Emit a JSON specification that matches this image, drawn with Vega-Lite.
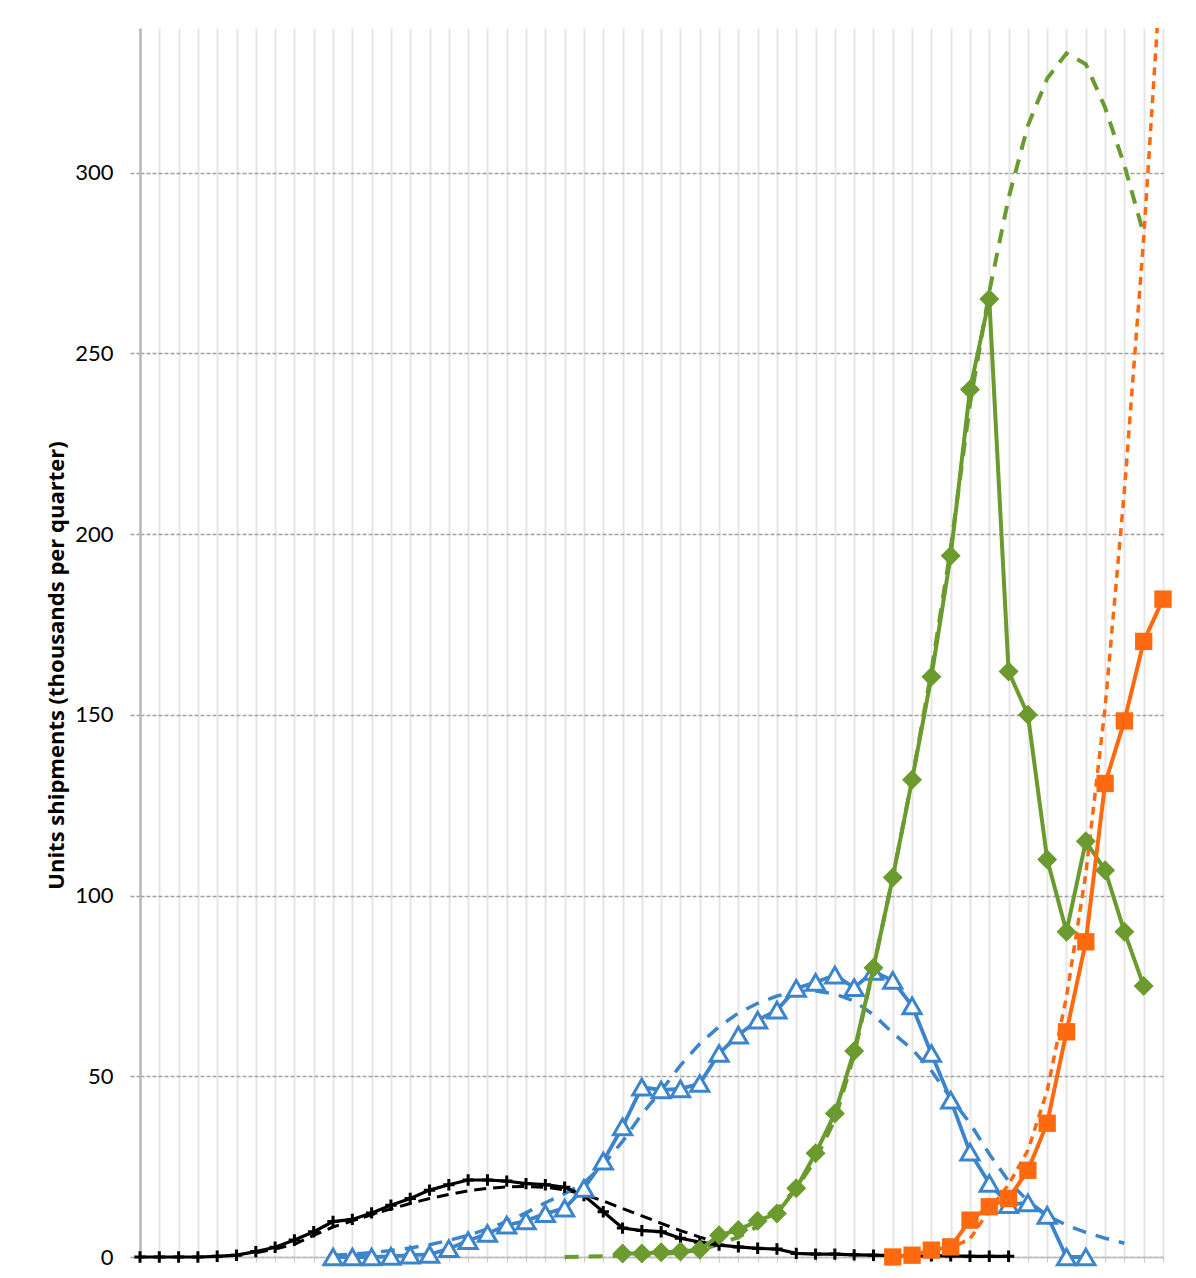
{
  "$schema": "https://vega.github.io/schema/vega-lite/v6.json",
  "width": 1023,
  "height": 1229,
  "autosize": {"type": "none"},
  "padding": {"left": 140, "top": 28, "right": 33, "bottom": 21},
  "background": "white",
  "config": {
    "view": {"stroke": null},
    "font": "Lato"
  },
  "datasets": {
    "actual": [
      {"s":"black","i":0,"v":0},{"s":"black","i":1,"v":0},{"s":"black","i":2,"v":0},{"s":"black","i":3,"v":0},
      {"s":"black","i":4,"v":0.2},{"s":"black","i":5,"v":0.5},{"s":"black","i":6,"v":1.5},{"s":"black","i":7,"v":2.7},
      {"s":"black","i":8,"v":4.7},{"s":"black","i":9,"v":7},{"s":"black","i":10,"v":9.8},{"s":"black","i":11,"v":10.4},
      {"s":"black","i":12,"v":12.2},{"s":"black","i":13,"v":14.3},{"s":"black","i":14,"v":16.2},{"s":"black","i":15,"v":18.5},
      {"s":"black","i":16,"v":20},{"s":"black","i":17,"v":21.3},{"s":"black","i":18,"v":21.3},{"s":"black","i":19,"v":21},
      {"s":"black","i":20,"v":20.3},{"s":"black","i":21,"v":20},{"s":"black","i":22,"v":19.3},{"s":"black","i":23,"v":17},
      {"s":"black","i":24,"v":12.5},{"s":"black","i":25,"v":8},{"s":"black","i":26,"v":7.3},{"s":"black","i":27,"v":7},
      {"s":"black","i":28,"v":5.2},{"s":"black","i":29,"v":4.1},{"s":"black","i":30,"v":3.3},{"s":"black","i":31,"v":2.8},
      {"s":"black","i":32,"v":2.4},{"s":"black","i":33,"v":2.2},{"s":"black","i":34,"v":1},{"s":"black","i":35,"v":0.8},
      {"s":"black","i":36,"v":0.8},{"s":"black","i":37,"v":0.6},{"s":"black","i":38,"v":0.5},{"s":"black","i":39,"v":0.4},
      {"s":"black","i":40,"v":0.3},{"s":"black","i":41,"v":0.3},{"s":"black","i":42,"v":0.3},{"s":"black","i":43,"v":0.2},
      {"s":"black","i":44,"v":0.2},{"s":"black","i":45,"v":0.2},

      {"s":"blue","i":10,"v":0},{"s":"blue","i":11,"v":0},{"s":"blue","i":12,"v":0},{"s":"blue","i":13,"v":0.2},
      {"s":"blue","i":14,"v":0.5},{"s":"blue","i":15,"v":0.7},{"s":"blue","i":16,"v":2.3},{"s":"blue","i":17,"v":4.5},
      {"s":"blue","i":18,"v":6.5},{"s":"blue","i":19,"v":8.8},{"s":"blue","i":20,"v":10},{"s":"blue","i":21,"v":12},
      {"s":"blue","i":22,"v":13.5},{"s":"blue","i":23,"v":19},{"s":"blue","i":24,"v":26.5},{"s":"blue","i":25,"v":36},
      {"s":"blue","i":26,"v":47},{"s":"blue","i":27,"v":46.2},{"s":"blue","i":28,"v":46.5},{"s":"blue","i":29,"v":48},
      {"s":"blue","i":30,"v":56.3},{"s":"blue","i":31,"v":61.4},{"s":"blue","i":32,"v":65.5},{"s":"blue","i":33,"v":68.3},
      {"s":"blue","i":34,"v":74.3},{"s":"blue","i":35,"v":76},{"s":"blue","i":36,"v":78},{"s":"blue","i":37,"v":74.5},
      {"s":"blue","i":38,"v":79},{"s":"blue","i":39,"v":76.5},{"s":"blue","i":40,"v":69.5},{"s":"blue","i":41,"v":56.3},
      {"s":"blue","i":42,"v":43.4},{"s":"blue","i":43,"v":29},{"s":"blue","i":44,"v":20.4},{"s":"blue","i":45,"v":14.5},
      {"s":"blue","i":46,"v":15},{"s":"blue","i":47,"v":11.5},{"s":"blue","i":48,"v":0},{"s":"blue","i":49,"v":0},

      {"s":"green","i":25,"v":1},{"s":"green","i":26,"v":1},{"s":"green","i":27,"v":1.3},{"s":"green","i":28,"v":1.5},
      {"s":"green","i":29,"v":2},{"s":"green","i":30,"v":6},{"s":"green","i":31,"v":7.5},{"s":"green","i":32,"v":10},
      {"s":"green","i":33,"v":12},{"s":"green","i":34,"v":19},{"s":"green","i":35,"v":28.7},{"s":"green","i":36,"v":39.7},
      {"s":"green","i":37,"v":57},{"s":"green","i":38,"v":80},{"s":"green","i":39,"v":105},{"s":"green","i":40,"v":132},
      {"s":"green","i":41,"v":160.5},{"s":"green","i":42,"v":194},{"s":"green","i":43,"v":240},{"s":"green","i":44,"v":265},
      {"s":"green","i":45,"v":162},{"s":"green","i":46,"v":150},{"s":"green","i":47,"v":110},{"s":"green","i":48,"v":90},
      {"s":"green","i":49,"v":115},{"s":"green","i":50,"v":107},{"s":"green","i":51,"v":90},{"s":"green","i":52,"v":75},

      {"s":"orange","i":39,"v":0},{"s":"orange","i":40,"v":0.5},{"s":"orange","i":41,"v":1.9},{"s":"orange","i":42,"v":2.8},
      {"s":"orange","i":43,"v":10.2},{"s":"orange","i":44,"v":13.9},{"s":"orange","i":45,"v":16.2},{"s":"orange","i":46,"v":24},
      {"s":"orange","i":47,"v":37},{"s":"orange","i":48,"v":62.3},{"s":"orange","i":49,"v":87.2},{"s":"orange","i":50,"v":131},
      {"s":"orange","i":51,"v":148.3},{"s":"orange","i":52,"v":170.3},{"s":"orange","i":53,"v":182}
    ],
    "fit": [
      {"s":"black","i":6,"v":1.2},{"s":"black","i":7,"v":2.2},{"s":"black","i":8,"v":3.5},{"s":"black","i":9,"v":6},
      {"s":"black","i":10,"v":8.3},{"s":"black","i":11,"v":10},{"s":"black","i":12,"v":11.7},{"s":"black","i":13,"v":13.3},
      {"s":"black","i":14,"v":14.8},{"s":"black","i":15,"v":16.2},{"s":"black","i":16,"v":17.3},{"s":"black","i":17,"v":18.3},
      {"s":"black","i":18,"v":19},{"s":"black","i":19,"v":19.4},{"s":"black","i":20,"v":19.5},{"s":"black","i":21,"v":19.3},
      {"s":"black","i":22,"v":18.6},{"s":"black","i":23,"v":17.3},{"s":"black","i":24,"v":15.5},{"s":"black","i":25,"v":13.4},
      {"s":"black","i":26,"v":11.4},{"s":"black","i":27,"v":9.3},{"s":"black","i":28,"v":7.3},{"s":"black","i":29,"v":5.5},
      {"s":"black","i":30,"v":4},

      {"s":"blue","i":10,"v":0.5},{"s":"blue","i":11,"v":0.8},{"s":"blue","i":12,"v":1.2},{"s":"blue","i":13,"v":1.8},
      {"s":"blue","i":14,"v":2.5},{"s":"blue","i":15,"v":3.4},{"s":"blue","i":16,"v":4.6},{"s":"blue","i":17,"v":6},
      {"s":"blue","i":18,"v":7.8},{"s":"blue","i":19,"v":9.8},{"s":"blue","i":20,"v":12.2},{"s":"blue","i":21,"v":15},
      {"s":"blue","i":22,"v":17.5},{"s":"blue","i":23,"v":20.5},{"s":"blue","i":24,"v":25.5},{"s":"blue","i":25,"v":32},
      {"s":"blue","i":26,"v":39.5},{"s":"blue","i":27,"v":46},{"s":"blue","i":28,"v":53},{"s":"blue","i":29,"v":59},
      {"s":"blue","i":30,"v":63.7},{"s":"blue","i":31,"v":67.5},{"s":"blue","i":32,"v":70.2},{"s":"blue","i":33,"v":72.2},
      {"s":"blue","i":34,"v":73.4},{"s":"blue","i":35,"v":73.6},{"s":"blue","i":36,"v":72.8},{"s":"blue","i":37,"v":70.8},
      {"s":"blue","i":38,"v":67},{"s":"blue","i":39,"v":62},{"s":"blue","i":40,"v":57.5},{"s":"blue","i":41,"v":51.5},
      {"s":"blue","i":42,"v":44},{"s":"blue","i":43,"v":37},{"s":"blue","i":44,"v":28.5},{"s":"blue","i":45,"v":21},
      {"s":"blue","i":46,"v":15.5},{"s":"blue","i":47,"v":11.5},{"s":"blue","i":48,"v":8.8},{"s":"blue","i":49,"v":6.8},
      {"s":"blue","i":50,"v":5.2},{"s":"blue","i":51,"v":3.8},

      {"s":"green","i":22,"v":0},{"s":"green","i":23,"v":0.1},{"s":"green","i":24,"v":0.2},{"s":"green","i":25,"v":0.3},
      {"s":"green","i":26,"v":0.5},{"s":"green","i":27,"v":0.8},{"s":"green","i":28,"v":1.2},{"s":"green","i":29,"v":2},
      {"s":"green","i":30,"v":3.5},{"s":"green","i":31,"v":5.5},{"s":"green","i":32,"v":8.5},{"s":"green","i":33,"v":13},
      {"s":"green","i":34,"v":19},{"s":"green","i":35,"v":27},{"s":"green","i":36,"v":38},{"s":"green","i":37,"v":56},
      {"s":"green","i":38,"v":80},{"s":"green","i":39,"v":105},{"s":"green","i":40,"v":132},{"s":"green","i":41,"v":162},
      {"s":"green","i":42,"v":196},{"s":"green","i":43,"v":236},{"s":"green","i":44,"v":267},{"s":"green","i":45,"v":293},
      {"s":"green","i":46,"v":313},{"s":"green","i":47,"v":326},{"s":"green","i":48,"v":333},{"s":"green","i":49,"v":330},
      {"s":"green","i":50,"v":318},{"s":"green","i":51,"v":302},{"s":"green","i":52,"v":283},

      {"s":"orange","i":41,"v":1},{"s":"orange","i":42,"v":2.5},{"s":"orange","i":43,"v":5},{"s":"orange","i":44,"v":13},
      {"s":"orange","i":45,"v":20},{"s":"orange","i":46,"v":29.5},{"s":"orange","i":47,"v":46},{"s":"orange","i":48,"v":72},
      {"s":"orange","i":49,"v":106},{"s":"orange","i":50,"v":152},{"s":"orange","i":51,"v":212},{"s":"orange","i":52,"v":282},
      {"s":"orange","i":53,"v":365}
    ]
  },
  "encoding": {
    "x": {
      "field": "i", "type": "quantitative",
      "scale": {"domain": [0, 53], "nice": false, "zero": false},
      "axis": {
        "title": null, "labels": false,
        "values": [0,1,2,3,4,5,6,7,8,9,10,11,12,13,14,15,16,17,18,19,20,21,22,23,24,25,26,27,28,29,30,31,32,33,34,35,36,37,38,39,40,41,42,43,44,45,46,47,48,49,50,51,52,53],
        "grid": true, "gridColor": "#E6E6E6", "gridWidth": 2,
        "domainColor": "#BFBFBF", "domainWidth": 1.5,
        "tickColor": "#C8C8C8", "tickSize": 5, "tickWidth": 1
      }
    },
    "y": {
      "field": "v", "type": "quantitative",
      "scale": {"domain": [0, 340], "nice": false},
      "axis": {
        "title": "Units shipments (thousands per quarter)",
        "titleFont": "Open Sans", "titleFontSize": 22, "titleFontWeight": "bold", "titleColor": "#000000",
        "titleX": -84, "titleY": 637, "titleAngle": 270, "titleAlign": "center", "titleBaseline": "middle",
        "values": [0, 50, 100, 150, 200, 250, 300],
        "labelFont": "Lato", "labelFontSize": 22, "labelColor": "#000000", "labelPadding": 17,
        "grid": true, "gridColor": "#A0A0A0", "gridDash": [4, 2], "gridWidth": 1.4,
        "domainColor": "#B8B8B8", "domainWidth": 2.5,
        "tickColor": "#A0A0A0", "tickSize": 10, "tickDash": [4, 2], "tickWidth": 1.4
      }
    }
  },
  "layer": [
    {"data": {"name": "fit"}, "transform": [{"filter": "datum.s === 'black'"}],
     "mark": {"type": "line", "color": "#000000", "strokeWidth": 3, "strokeDash": [12, 7]}},
    {"data": {"name": "fit"}, "transform": [{"filter": "datum.s === 'blue'"}],
     "mark": {"type": "line", "color": "#3C85CC", "strokeWidth": 3.5, "strokeDash": [14, 10]}},
    {"data": {"name": "fit"}, "transform": [{"filter": "datum.s === 'green'"}],
     "mark": {"type": "line", "color": "#6B9B2E", "strokeWidth": 4, "strokeDash": [14, 10]}},
    {"data": {"name": "fit"}, "transform": [{"filter": "datum.s === 'orange'"}],
     "mark": {"type": "line", "color": "#FF6A10", "strokeWidth": 3.5, "strokeDash": [8, 6], "clip": true}},

    {"data": {"name": "actual"}, "transform": [{"filter": "datum.s === 'black'"}],
     "mark": {"type": "line", "color": "#000000", "strokeWidth": 3.2}},
    {"data": {"name": "actual"}, "transform": [{"filter": "datum.s === 'black'"}],
     "mark": {"type": "point", "shape": "M-1,0H1M0,-1V1", "filled": false, "stroke": "#000000", "strokeWidth": 3, "size": 130, "opacity": 1}},

    {"data": {"name": "actual"}, "transform": [{"filter": "datum.s === 'blue'"}],
     "mark": {"type": "line", "color": "#3C85CC", "strokeWidth": 3.8}},
    {"data": {"name": "actual"}, "transform": [{"filter": "datum.s === 'blue'"}],
     "mark": {"type": "point", "shape": "triangle-up", "filled": false, "fill": "#FFFFFF", "fillOpacity": 1, "stroke": "#3C85CC", "strokeWidth": 3, "size": 330, "opacity": 1}},

    {"data": {"name": "actual"}, "transform": [{"filter": "datum.s === 'green'"}],
     "mark": {"type": "line", "color": "#6B9B2E", "strokeWidth": 4}},
    {"data": {"name": "actual"}, "transform": [{"filter": "datum.s === 'green'"}],
     "mark": {"type": "point", "shape": "diamond", "filled": true, "color": "#6B9B2E", "size": 400, "opacity": 1}},

    {"data": {"name": "actual"}, "transform": [{"filter": "datum.s === 'orange'"}],
     "mark": {"type": "line", "color": "#FF6A10", "strokeWidth": 4}},
    {"data": {"name": "actual"}, "transform": [{"filter": "datum.s === 'orange'"}],
     "mark": {"type": "point", "shape": "square", "filled": true, "color": "#FF6A10", "size": 300, "opacity": 1}}
  ]
}
